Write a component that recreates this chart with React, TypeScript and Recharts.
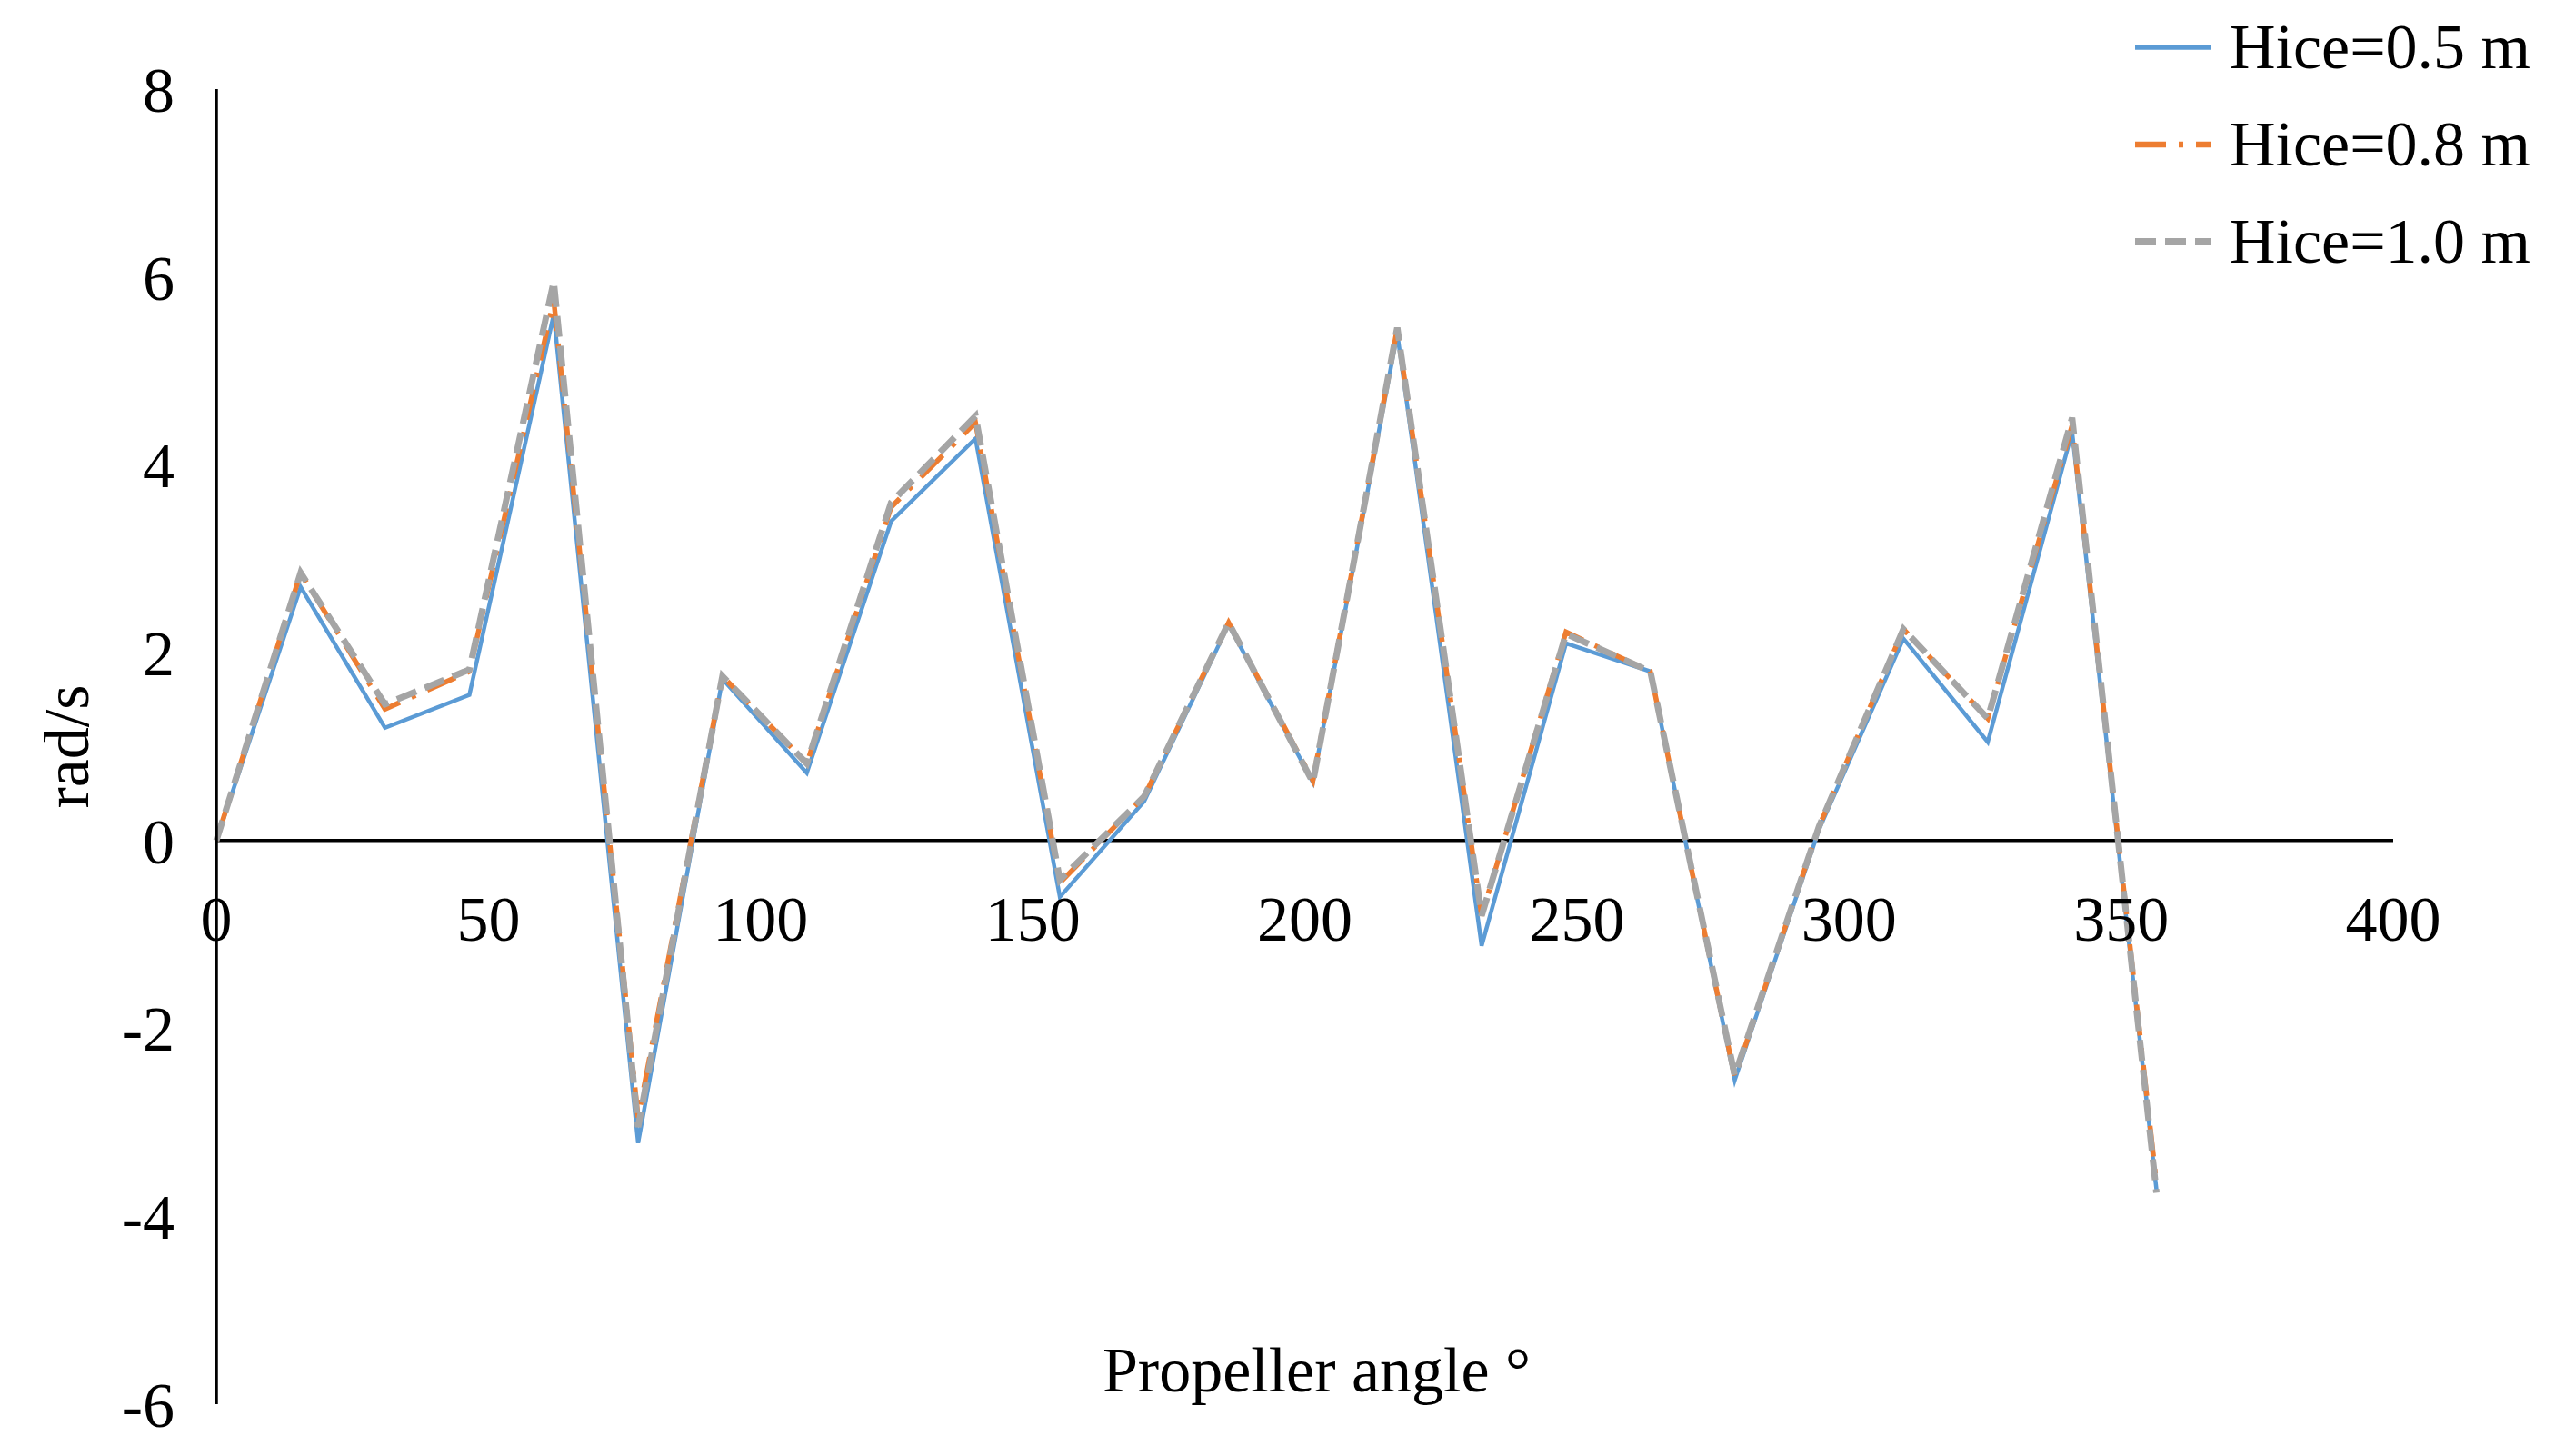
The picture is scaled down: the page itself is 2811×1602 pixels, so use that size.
import React from "react"
import {
  Label,
  Line,
  LineChart,
  ReferenceLine,
  XAxis,
  YAxis,
} from "recharts"

// propeller angle (deg) at each sample
const angles = [
  0, 15.5, 31, 46.5, 62, 77.5, 93, 108.5, 124, 139.5, 155, 170.5, 186, 201.5,
  217, 232.5, 248, 263.5, 279, 294.5, 310, 325.5, 341, 356.5,
]

// angular velocity, rad/s
const hice05 = [
  0, 2.7, 1.2, 1.55, 5.6, -3.22, 1.72, 0.72, 3.4, 4.28, -0.6, 0.42, 2.3, 0.62,
  5.4, -1.12, 2.1, 1.8, -2.55, 0.12, 2.15, 1.05, 4.35, -3.72,
]
const hice08 = [
  0, 2.85, 1.4, 1.8, 5.75, -2.95, 1.75, 0.82, 3.55, 4.45, -0.45, 0.47, 2.32,
  0.64, 5.45, -0.8, 2.22, 1.8, -2.52, 0.15, 2.25, 1.3, 4.42, -3.65,
]
const hice10 = [
  0, 2.85, 1.45, 1.82, 5.95, -3.05, 1.75, 0.82, 3.6, 4.52, -0.42, 0.47, 2.32,
  0.62, 5.46, -0.8, 2.2, 1.8, -2.5, 0.15, 2.25, 1.3, 4.5, -3.75,
]

const xTicks = [0, 50, 100, 150, 200, 250, 300, 350, 400]
const yTicks = [-6, -4, -2, 0, 2, 4, 6, 8]

type Series = {
  key: string
  name: string
  color: string
  width: number
  dash?: string
}

const series: Series[] = [
  { key: "h05", name: "Hice=0.5 m", color: "#5B9BD5", width: 4.5 },
  { key: "h08", name: "Hice=0.8 m", color: "#ED7D31", width: 5.5, dash: "34 14 5 14" },
  { key: "h10", name: "Hice=1.0 m", color: "#A5A5A5", width: 7, dash: "23 10" },
]

const data = angles.map((a, i) => ({
  angle: a,
  h05: hice05[i],
  h08: hice08[i],
  h10: hice10[i],
}))

const W = 2811
const H = 1602
const TOP = 98
const BOTTOM = 56
const X_AXIS_H = 1
const LEFT_AXIS = 238
const RIGHT = 178
const Y_MIN = -6
const Y_MAX = 8
const PLOT_H = H - TOP - BOTTOM - X_AXIS_H
const ZERO_Y = TOP + (PLOT_H * Y_MAX) / (Y_MAX - Y_MIN)

const FONT = '"Liberation Serif", "Times New Roman", serif'
const FS = 70

// Excel style: category labels hang under the zero line, not the plot bottom
function XTick(props: any) {
  const { x, payload } = props
  return (
    <text
      x={x}
      y={ZERO_Y + 110}
      textAnchor="middle"
      fontFamily={FONT}
      fontSize={FS}
      fill="#000"
    >
      {payload.value}
    </text>
  )
}

function LegendBox() {
  return (
    <div
      style={{
        position: "absolute",
        left: 2349,
        top: -2,
        fontFamily: FONT,
        fontSize: FS,
        color: "#000",
      }}
    >
      {series.map((s) => (
        <div
          key={s.key}
          style={{ display: "flex", alignItems: "center", height: 107 }}
        >
          <svg width={84} height={20} style={{ marginRight: 20 }}>
            <line
              x1={0}
              y1={10}
              x2={84}
              y2={10}
              stroke={s.color}
              strokeWidth={s.width + 1}
              strokeDasharray={s.dash}
            />
          </svg>
          <span style={{ whiteSpace: "nowrap" }}>{s.name}</span>
        </div>
      ))}
    </div>
  )
}

export default function App() {
  return (
    <div
      style={{
        position: "absolute",
        left: 0,
        top: 0,
        width: W,
        height: H,
        background: "#fff",
      }}
    >
      <LineChart
        width={W}
        height={H}
        data={data}
        margin={{ top: TOP, right: RIGHT, bottom: BOTTOM, left: 0 }}
      >
        <XAxis
          dataKey="angle"
          type="number"
          domain={[0, 400]}
          ticks={xTicks}
          height={X_AXIS_H}
          axisLine={false}
          tickLine={false}
          tick={XTick}
          interval={0}
        >
          <Label
            value="Propeller angle °"
            position="center"
            dx={13}
            dy={-39}
            style={{ fontFamily: FONT, fontSize: FS, fill: "#000" }}
          />
        </XAxis>
        <YAxis
          type="number"
          domain={[Y_MIN, Y_MAX]}
          ticks={yTicks}
          width={LEFT_AXIS}
          axisLine={{ stroke: "#000", strokeWidth: 3.5 }}
          tickLine={false}
          tickSize={0}
          tickMargin={46}
          interval={0}
          tick={{ fontFamily: FONT, fontSize: FS, fill: "#000" }}
        >
          <Label
            value="rad/s"
            angle={-90}
            position="center"
            dx={-47}
            style={{ fontFamily: FONT, fontSize: FS, fill: "#000" }}
          />
        </YAxis>
        <ReferenceLine y={0} stroke="#000" strokeWidth={3.5} />
        {series.map((s) => (
          <Line
            key={s.key}
            type="linear"
            dataKey={s.key}
            name={s.name}
            stroke={s.color}
            strokeWidth={s.width}
            strokeDasharray={s.dash}
            dot={false}
            activeDot={false}
            isAnimationActive={false}
          />
        ))}
      </LineChart>
      <LegendBox />
    </div>
  )
}
